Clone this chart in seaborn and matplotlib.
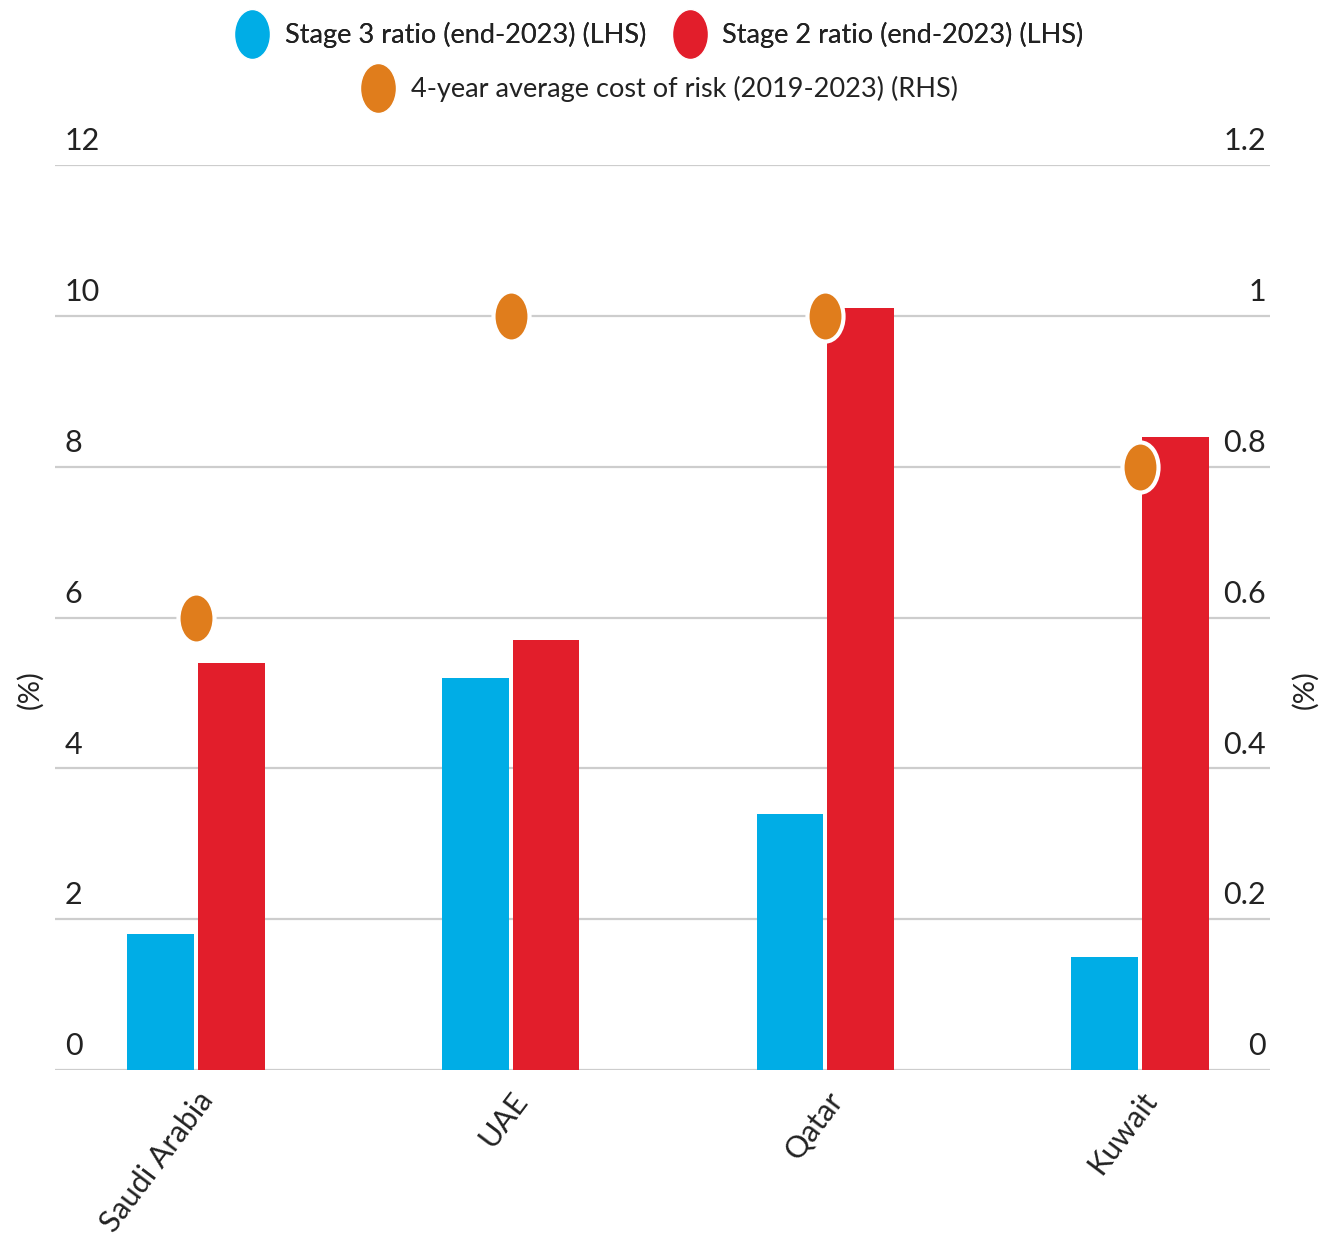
import numpy as np
import pandas as pd
import matplotlib
matplotlib.use("Agg")
import matplotlib.pyplot as plt
import seaborn as sns
from matplotlib.path import Path
from matplotlib.transforms import Affine2D
from matplotlib.lines import Line2D

countries = ["Saudi Arabia", "UAE", "Qatar", "Kuwait"]
stage3 = [1.8, 5.2, 3.4, 1.5]
stage2 = [5.4, 5.7, 10.1, 8.4]
cost_of_risk = [0.6, 1.0, 1.0, 0.8]
left_ticks = [0, 2, 4, 6, 8, 10, 12]
right_ticks = [0, 0.2, 0.4, 0.6, 0.8, 1, 1.2]
right_tick_labels = ["0", "0.2", "0.4", "0.6", "0.8", "1", "1.2"]
s3_name = "Stage 3 ratio (end-2023) (LHS)"
s2_name = "Stage 2 ratio (end-2023) (LHS)"
cor_name = "4-year average cost of risk (2019-2023) (RHS)"

BLUE = "#00ADE6"
RED = "#E21E2B"
ORANGE = "#E07D1C"
GRID = "#CDCDCD"
TXT = "#222222"

sns.set_theme(style="white")
plt.rcParams["font.family"] = ["Lato", "DejaVu Sans"]

df = pd.DataFrame({
    "country": countries * 2,
    "series": [s3_name] * len(countries) + [s2_name] * len(countries),
    "value": stage3 + stage2,
})

fig = plt.figure(figsize=(13.3, 12.59), dpi=100)
ax = fig.add_axes([55 / 1330, 1 - 1070 / 1259, 1215 / 1330, 905 / 1259])

sns.barplot(data=df, x="country", y="value", hue="series", order=countries,
            hue_order=[s3_name, s2_name], palette=[BLUE, RED],
            width=0.45, gap=0.06, ax=ax, legend=False, saturation=1,
            linewidth=0, zorder=3)

ax2 = ax.twinx()

ax.set_ylim(0, 12)
ax.set_xlim(-0.448, 3.413)
ax.set_yticks(left_ticks)
ax.yaxis.grid(True, color=GRID, linewidth=1.6, zorder=0)
ax.tick_params(axis="y", left=False, right=False, labelleft=False,
               labelright=False)
ax.tick_params(axis="x", bottom=False, pad=6)
for s in ax.spines.values():
    s.set_visible(False)
ax.set_xlabel("")
ax.set_ylabel("")
ax.set_axisbelow(True)

ax.set_xticks(range(len(countries)))
ax.set_xticklabels(countries, rotation=53, ha="right", va="top",
                   rotation_mode="anchor", fontsize=22, color=TXT)

ytr = ax.get_yaxis_transform()
for t in left_ticks:
    ax.annotate(str(t), xy=(0.008, t), xycoords=ytr, xytext=(0, 7),
                textcoords="offset points", ha="left", va="bottom",
                fontsize=22, color=TXT)

ax2.set_ylim(0, 1.2)
ax2.tick_params(axis="y", left=False, right=False, labelleft=False,
                labelright=False)
for s in ax2.spines.values():
    s.set_visible(False)
ax2.grid(False)
ytr2 = ax2.get_yaxis_transform()
for t, lab in zip(right_ticks, right_tick_labels):
    ax2.annotate(lab, xy=(0.9965, t), xycoords=ytr2, xytext=(0, 7),
                 textcoords="offset points", ha="right", va="bottom",
                 fontsize=22, color=TXT)

ellipse = Path.unit_circle().transformed(Affine2D().scale(0.72, 1.0))
sns.scatterplot(x=np.arange(len(countries)), y=cost_of_risk, ax=ax2,
                marker=ellipse, s=1300, color=ORANGE, edgecolor="white",
                linewidth=3, zorder=5, legend=False)
ax2.set_ylim(0, 1.2)
ax2.set_xlim(-0.448, 3.413)
ax2.set_ylabel("")

fig.text(30 / 1330, 1 - 690 / 1259, "(%)", rotation=90, ha="center",
         va="center", fontsize=21, color=TXT)
fig.text(1305 / 1330, 1 - 690 / 1259, "(%)", rotation=90, ha="center",
         va="center", fontsize=21, color=TXT)

def handle(c):
    return Line2D([], [], linestyle="none", marker=ellipse, markersize=36,
                  markerfacecolor=c, markeredgecolor="white")

leg1 = fig.legend([handle(BLUE), handle(RED)], [s3_name, s2_name],
                  loc="center", bbox_to_anchor=(0.497, 1 - 35 / 1259), ncol=2,
                  frameon=False, fontsize=19.5, handlelength=1.0,
                  handletextpad=0.7, columnspacing=1.1, labelcolor=TXT)
leg2 = fig.legend([handle(ORANGE)], [cor_name], loc="center",
                  bbox_to_anchor=(0.497, 1 - 89 / 1259), frameon=False,
                  fontsize=19.5, handlelength=1.0, handletextpad=0.7,
                  labelcolor=TXT)
fig.add_artist(leg1)

fig.savefig("out.png", dpi=100, facecolor="white")
